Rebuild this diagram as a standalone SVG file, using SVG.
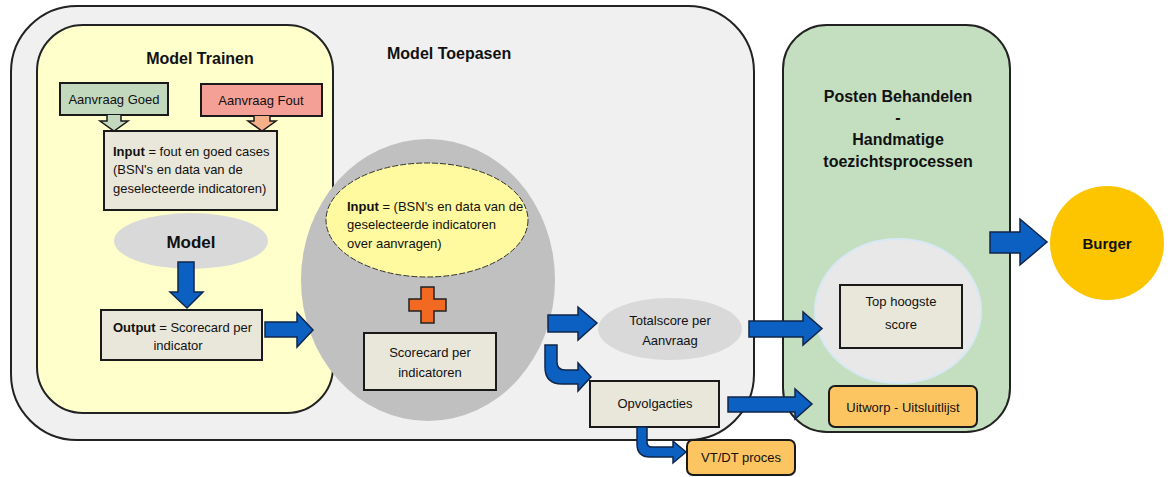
<svg xmlns="http://www.w3.org/2000/svg" width="1170" height="477" viewBox="0 0 1170 477">
<style>
text{font-family:"Liberation Sans",Arial,sans-serif;fill:#111}
.t{font-size:13px}
.h{font-size:16px;font-weight:bold}
.b{font-weight:bold}
.box{stroke:#1a1a1a;stroke-width:2}
.arr{fill:#0b60c2;stroke:#10264a;stroke-width:1.5;stroke-linejoin:miter}
</style>
<rect width="1170" height="477" fill="#ffffff"/>
<g id="model-toepasen">
<rect x="11" y="6" width="743" height="434" rx="66" fill="#f0f0f0" stroke="#222" stroke-width="2"/>
<text class="h" x="387" y="59">Model Toepasen</text>
</g>
<g id="model-trainen">
<rect x="37" y="25" width="296" height="388" rx="46" fill="#ffffcc" stroke="#222" stroke-width="2"/>
<text class="h" x="200" y="64" text-anchor="middle">Model Trainen</text>
</g>
<g id="posten-behandelen">
<rect x="783" y="25" width="227" height="407" rx="44" fill="#c4dfc0" stroke="#222" stroke-width="2"/>
<text class="h" x="898" y="102" text-anchor="middle" font-size="15">Posten Behandelen</text>
<text class="h" x="898" y="123" text-anchor="middle" font-size="15">-</text>
<text class="h" x="898" y="145" text-anchor="middle" font-size="15">Handmatige</text>
<text class="h" x="898" y="167" text-anchor="middle" font-size="15">toezichtsprocessen</text>
</g>
<g id="aanvraag-goed">
<rect class="box" x="60" y="83" width="108" height="32" fill="#c3d9bd"/>
<path d="M107,115 V121 H100 L114,131 L128,121 H121 V115" fill="#c3d9bd" stroke="#1a1a1a" stroke-width="1.5"/>
<text class="t" x="114" y="104" text-anchor="middle">Aanvraag Goed</text>
</g>
<g id="aanvraag-fout">
<rect class="box" x="201" y="84" width="121" height="32" fill="#f5a097"/>
<path d="M254,116 V121 H248 L262,131 L276,121 H270 V116" fill="#f5b08a" stroke="#1a1a1a" stroke-width="1.5"/>
<text class="t" x="261" y="105" text-anchor="middle">Aanvraag Fout</text>
</g>
<g id="input-train">
<rect class="box" x="104" y="131" width="173" height="79" fill="#e9e7da"/>
<text class="t" x="113" y="156"><tspan class="b">Input</tspan> = fout en goed cases</text>
<text class="t" x="113" y="174">(BSN's en data van de</text>
<text class="t" x="113" y="193">geselecteerde indicatoren)</text>
</g>
<g id="model">
<ellipse cx="191" cy="241" rx="77" ry="28" fill="#d9d9d9"/>
<text x="191" y="248" text-anchor="middle" font-size="17" font-weight="bold">Model</text>
</g>
<g id="output">
<rect class="box" x="101" y="310" width="161" height="50" fill="#e9e7da"/>
<text class="t" x="113" y="332"><tspan class="b">Output</tspan> = Scorecard per</text>
<text class="t" x="178" y="350" text-anchor="middle">indicator</text>
</g>
<g id="toepassen-circle">
<ellipse cx="428" cy="280" rx="127" ry="141" fill="#c0c0c0"/>
</g>
<g id="input-apply">
<ellipse cx="427" cy="220" rx="101" ry="57" fill="#fff99f" stroke="#333" stroke-width="1" stroke-dasharray="6 2"/>
<text class="t" x="347" y="211"><tspan class="b">Input</tspan> = (BSN's en data van de</text>
<text class="t" x="347" y="229">geselecteerde indicatoren</text>
<text class="t" x="347" y="248">over aanvragen)</text>
</g>
<g id="plus">
<path d="M421,287 H434 V299 H446 V311 H434 V323 H421 V311 H409 V299 H421 Z" fill="#f26a22" stroke="#222" stroke-width="1.5"/>
</g>
<g id="scorecard">
<rect class="box" x="364" y="333" width="132" height="57" fill="#e9e7da"/>
<text class="t" x="430" y="357" text-anchor="middle">Scorecard per</text>
<text class="t" x="430" y="377" text-anchor="middle">indicatoren</text>
</g>
<g id="totalscore">
<ellipse cx="670" cy="329" rx="72" ry="31" fill="#d9d9d9"/>
<text class="t" x="670" y="325" text-anchor="middle">Totalscore per</text>
<text class="t" x="670" y="345" text-anchor="middle">Aanvraag</text>
</g>
<g id="opvolgacties">
<rect class="box" x="590" y="381" width="129" height="46" fill="#e9e7da"/>
<text class="t" x="655" y="408" text-anchor="middle">Opvolgacties</text>
</g>
<g id="vtdt">
<rect class="box" x="687" y="440" width="108" height="35" rx="6" fill="#fdc462"/>
<text class="t" x="741" y="462" text-anchor="middle">VT/DT proces</text>
</g>
<g id="top-circle">
<ellipse cx="898" cy="311" rx="83" ry="72" fill="#e8e8e8" stroke="#d8e8f4" stroke-width="2"/>
</g>
<g id="top-hoogste">
<rect class="box" x="840" y="285" width="122" height="63" fill="#e9e7da"/>
<text class="t" x="901" y="306" text-anchor="middle">Top hoogste</text>
<text class="t" x="901" y="329" text-anchor="middle">score</text>
</g>
<g id="uitworp">
<rect class="box" x="829" y="386" width="148" height="41" rx="6" fill="#fdc462"/>
<text class="t" x="903" y="412" text-anchor="middle">Uitworp - Uitsluitlijst</text>
</g>
<g id="burger">
<circle cx="1107" cy="243" r="57" fill="#fcc500"/>
<text x="1107" y="249" text-anchor="middle" font-size="15" font-weight="bold">Burger</text>
</g>
<g id="connectors">
<path class="arr" d="M178,262 H194 V292 H203 L187,308 L170,292 H178 Z"/>
<path class="arr" d="M265,322 H297 V313 L313,330 L297,347 V337 H265 Z"/>
<path class="arr" d="M548,315 H578 V307 L597,323 L578,340 V332 H548 Z"/>
<path class="arr" d="M545,345 H557 V362 Q557,370 565,370 H578 V363 L591,377 L578,391 V384 H562 Q545,384 545,367 Z"/>
<path class="arr" d="M637,427 H647 V442 Q647,447 652,447 H673 V441 L686,452 L673,463 V457 H650 Q637,457 637,444 Z"/>
<path class="arr" d="M749,321 H803 V312 L822,328.5 L803,345 V337 H749 Z"/>
<path class="arr" d="M728,397 H795 V389 L812,404 L795,419 V412 H728 Z"/>
<path class="arr" d="M990,232 H1020 V219 L1047,242 L1020,265 V253 H990 Z"/>
</g>
</svg>
